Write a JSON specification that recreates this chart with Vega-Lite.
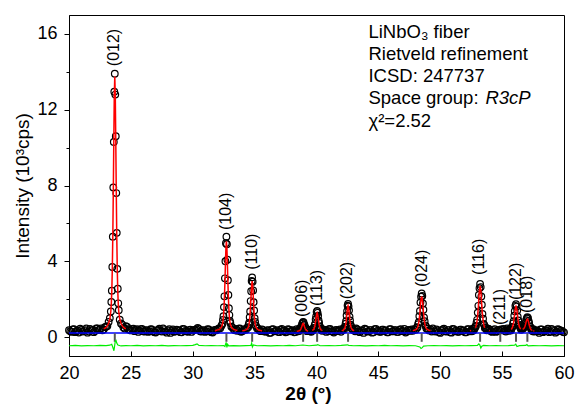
{
  "$schema": "https://vega.github.io/schema/vega-lite/v6.json",
  "width": 495,
  "height": 341,
  "autosize": {"type": "none"},
  "padding": {"left": 69, "top": 15, "right": 12, "bottom": 56},
  "background": "white",
  "config": {
    "view": {"stroke": "black", "strokeWidth": 1},
    "font": "Liberation Sans",
    "axis": {
      "grid": false,
      "domainColor": "black",
      "tickColor": "black",
      "labelColor": "black",
      "titleColor": "black",
      "labelFont": "Liberation Sans",
      "titleFont": "Liberation Sans",
      "labelFontSize": 18,
      "titleFontSize": 19,
      "titleFontWeight": "normal",
      "domainWidth": 1,
      "tickWidth": 1
    }
  },
  "datasets": {
    "obs": [
      {"x":20.0,"y":0.36,"c":0.30},{"x":20.2,"y":0.27,"c":0.30},{"x":20.4,"y":0.42,"c":0.30},{"x":20.6,"y":0.31,"c":0.30},{"x":20.8,"y":0.24,"c":0.30},
      {"x":21.0,"y":0.38,"c":0.30},{"x":21.2,"y":0.33,"c":0.30},{"x":21.4,"y":0.45,"c":0.31},{"x":21.6,"y":0.29,"c":0.32},{"x":21.8,"y":0.36,"c":0.33},
      {"x":22.0,"y":0.26,"c":0.34},{"x":22.2,"y":0.45,"c":0.35},{"x":22.4,"y":0.37,"c":0.37},{"x":22.6,"y":0.46,"c":0.39},{"x":22.8,"y":0.40,"c":0.44},
      {"x":20.1,"y":0.31},{"x":20.3,"y":0.40},{"x":20.5,"y":0.26},{"x":20.7,"y":0.35},{"x":20.9,"y":0.44},{"x":21.1,"y":0.29},{"x":21.3,"y":0.37},
      {"x":21.5,"y":0.23},{"x":21.7,"y":0.43},{"x":21.9,"y":0.36},{"x":22.1,"y":0.32},{"x":22.3,"y":0.45},{"x":22.5,"y":0.42},{"x":22.7,"y":0.36},
      {"x":22.90,"y":0.52,"c":0.46},{"x":23.00,"y":0.55,"c":0.52},{"x":23.10,"y":0.58,"c":0.60},{"x":23.20,"y":0.80,"c":0.73},{"x":23.30,"y":1.00,"c":0.95},{"x":23.38,"y":1.35,"c":1.35},
      {"x":23.42,"y":1.85,"c":1.77},{"x":23.46,"y":2.45,"c":2.45},{"x":23.50,"y":3.70,"c":3.60},{"x":23.54,"y":5.30,"c":5.33},{"x":23.58,"y":7.90,"c":7.66},
      {"x":23.62,"y":10.30,"c":10.35},{"x":23.66,"y":12.95,"c":12.74},{"x":23.70,"y":13.90,"c":13.75},{"x":23.74,"y":12.80,"c":12.74},{"x":23.78,"y":10.60,"c":10.35},
      {"x":23.82,"y":7.60,"c":7.66},{"x":23.86,"y":5.50,"c":5.33},{"x":23.90,"y":3.60,"c":3.60},{"x":23.94,"y":2.55,"c":2.45},{"x":23.98,"y":1.78,"c":1.77},
      {"x":24.02,"y":1.42,"c":1.35},{"x":24.10,"y":0.92,"c":0.95},{"x":24.20,"y":0.72,"c":0.73},{"x":24.30,"y":0.66,"c":0.60},{"x":24.40,"y":0.50,"c":0.52},{"x":24.50,"y":0.45,"c":0.46},
      {"x":24.6,"y":0.57,"c":0.44},{"x":24.8,"y":0.41,"c":0.39},{"x":25.0,"y":0.35,"c":0.37},{"x":25.2,"y":0.44,"c":0.35},{"x":25.4,"y":0.38,"c":0.34},
      {"x":25.6,"y":0.27,"c":0.33},{"x":25.8,"y":0.42,"c":0.32},{"x":26.0,"y":0.30,"c":0.31},{"x":26.2,"y":0.36,"c":0.30},{"x":26.4,"y":0.27,"c":0.30},
      {"x":26.6,"y":0.42,"c":0.30},{"x":26.8,"y":0.31,"c":0.30},{"x":27.0,"y":0.24,"c":0.30},{"x":27.2,"y":0.38,"c":0.30},{"x":27.4,"y":0.33,"c":0.30},
      {"x":27.6,"y":0.45,"c":0.30},{"x":27.8,"y":0.29,"c":0.30},{"x":28.0,"y":0.35,"c":0.30},{"x":28.2,"y":0.22,"c":0.30},{"x":28.4,"y":0.40,"c":0.30},
      {"x":28.6,"y":0.30,"c":0.30},{"x":28.8,"y":0.37,"c":0.30},{"x":29.0,"y":0.26,"c":0.30},{"x":29.2,"y":0.43,"c":0.30},{"x":29.4,"y":0.32,"c":0.30},
      {"x":29.6,"y":0.28,"c":0.30},{"x":29.8,"y":0.39,"c":0.30},{"x":30.0,"y":0.34,"c":0.30},{"x":30.2,"y":0.38,"c":0.32},{"x":30.4,"y":0.48,"c":0.32},
      {"x":30.6,"y":0.30,"c":0.30},{"x":30.8,"y":0.36,"c":0.30},{"x":31.0,"y":0.27,"c":0.30},{"x":31.2,"y":0.42,"c":0.30},{"x":31.4,"y":0.31,"c":0.30},
      {"x":31.6,"y":0.24,"c":0.30},{"x":31.8,"y":0.38,"c":0.31},
      {"x":24.7,"y":0.53},{"x":24.9,"y":0.38},{"x":25.1,"y":0.42},{"x":25.3,"y":0.31},{"x":25.5,"y":0.41},{"x":25.7,"y":0.34},{"x":25.9,"y":0.43},
      {"x":26.1,"y":0.29},{"x":26.3,"y":0.35},{"x":26.5,"y":0.31},{"x":26.7,"y":0.40},{"x":26.9,"y":0.26},{"x":27.1,"y":0.35},{"x":27.3,"y":0.44},
      {"x":27.5,"y":0.29},{"x":27.7,"y":0.37},{"x":27.9,"y":0.23},{"x":28.1,"y":0.41},{"x":28.3,"y":0.33},{"x":28.5,"y":0.28},{"x":28.7,"y":0.39},
      {"x":28.9,"y":0.34},{"x":29.1,"y":0.25},{"x":29.3,"y":0.42},{"x":29.5,"y":0.30},{"x":29.7,"y":0.36},{"x":29.9,"y":0.27},{"x":30.1,"y":0.38},
      {"x":30.3,"y":0.42},{"x":30.5,"y":0.43},{"x":30.7,"y":0.29},{"x":30.9,"y":0.35},{"x":31.1,"y":0.31},{"x":31.3,"y":0.40},{"x":31.5,"y":0.26},{"x":31.7,"y":0.35},
      {"x":31.92,"y":0.36,"c":0.36},{"x":32.02,"y":0.42,"c":0.38},{"x":32.12,"y":0.45,"c":0.40},{"x":32.22,"y":0.47,"c":0.45},{"x":32.32,"y":0.60,"c":0.53},{"x":32.40,"y":0.70,"c":0.67},
      {"x":32.44,"y":0.90,"c":0.82},{"x":32.48,"y":1.10,"c":1.06},{"x":32.52,"y":1.58,"c":1.46},{"x":32.56,"y":2.15,"c":2.08},{"x":32.60,"y":3.10,"c":2.90},
      {"x":32.64,"y":4.00,"c":3.85},{"x":32.68,"y":4.95,"c":4.69},{"x":32.72,"y":5.30,"c":5.05},{"x":32.76,"y":4.90,"c":4.69},{"x":32.80,"y":4.08,"c":3.85},
      {"x":32.84,"y":3.00,"c":2.90},{"x":32.88,"y":2.22,"c":2.08},{"x":32.92,"y":1.52,"c":1.46},{"x":32.96,"y":1.16,"c":1.06},{"x":33.00,"y":0.85,"c":0.82},
      {"x":33.04,"y":0.74,"c":0.67},{"x":33.12,"y":0.55,"c":0.53},{"x":33.22,"y":0.50,"c":0.45},{"x":33.32,"y":0.40,"c":0.40},{"x":33.42,"y":0.36,"c":0.38},{"x":33.52,"y":0.41,"c":0.36},
      {"x":33.6,"y":0.33,"c":0.34},{"x":33.7,"y":0.44},{"x":33.8,"y":0.45,"c":0.33},{"x":33.9,"y":0.28},
      {"x":34.00,"y":0.30,"c":0.33},{"x":34.10,"y":0.37,"c":0.34},{"x":34.20,"y":0.42,"c":0.36},{"x":34.30,"y":0.38,"c":0.38},{"x":34.40,"y":0.50,"c":0.43},{"x":34.48,"y":0.52,"c":0.51},
      {"x":34.52,"y":0.66,"c":0.59},{"x":34.56,"y":0.76,"c":0.72},{"x":34.60,"y":1.05,"c":0.95},{"x":34.64,"y":1.35,"c":1.29},{"x":34.68,"y":1.90,"c":1.75},
      {"x":34.72,"y":2.42,"c":2.28},{"x":34.76,"y":2.96,"c":2.75},{"x":34.80,"y":3.15,"c":2.95},{"x":34.84,"y":2.92,"c":2.75},{"x":34.88,"y":2.46,"c":2.28},
      {"x":34.92,"y":1.84,"c":1.75},{"x":34.96,"y":1.40,"c":1.29},{"x":35.00,"y":1.00,"c":0.95},{"x":35.04,"y":0.80,"c":0.72},{"x":35.08,"y":0.62,"c":0.59},
      {"x":35.12,"y":0.57,"c":0.51},{"x":35.20,"y":0.45,"c":0.43},{"x":35.30,"y":0.44,"c":0.38},{"x":35.40,"y":0.34,"c":0.36},{"x":35.50,"y":0.31,"c":0.34},{"x":35.60,"y":0.40,"c":0.33},
      {"x":35.8,"y":0.29,"c":0.31},{"x":36.0,"y":0.35,"c":0.30},{"x":36.2,"y":0.22,"c":0.30},{"x":36.4,"y":0.40,"c":0.30},{"x":36.6,"y":0.30,"c":0.30},
      {"x":36.8,"y":0.37,"c":0.30},{"x":37.0,"y":0.26,"c":0.30},{"x":37.2,"y":0.43,"c":0.30},{"x":37.4,"y":0.32,"c":0.30},{"x":37.6,"y":0.28,"c":0.30},
      {"x":37.8,"y":0.39,"c":0.30},{"x":38.0,"y":0.34,"c":0.30},{"x":38.2,"y":0.25,"c":0.30},{"x":38.4,"y":0.41,"c":0.31},
      {"x":35.7,"y":0.36},{"x":35.9,"y":0.29},{"x":36.1,"y":0.37},{"x":36.3,"y":0.23},{"x":36.5,"y":0.41},{"x":36.7,"y":0.33},{"x":36.9,"y":0.28},
      {"x":37.1,"y":0.39},{"x":37.3,"y":0.34},{"x":37.5,"y":0.25},{"x":37.7,"y":0.42},{"x":37.9,"y":0.30},{"x":38.1,"y":0.36},{"x":38.3,"y":0.27},
      {"x":38.52,"y":0.30,"c":0.32},{"x":38.60,"y":0.42,"c":0.33},{"x":38.64,"y":0.33,"c":0.35},{"x":38.68,"y":0.45,"c":0.37},{"x":38.72,"y":0.40,"c":0.40},
      {"x":38.76,"y":0.55,"c":0.46},{"x":38.80,"y":0.56,"c":0.53},{"x":38.84,"y":0.70,"c":0.61},{"x":38.88,"y":0.74,"c":0.69},{"x":38.92,"y":0.80,"c":0.72},
      {"x":38.96,"y":0.77,"c":0.69},{"x":39.00,"y":0.66,"c":0.61},{"x":39.04,"y":0.62,"c":0.53},{"x":39.08,"y":0.48,"c":0.46},{"x":39.12,"y":0.49,"c":0.40},
      {"x":39.16,"y":0.36,"c":0.37},{"x":39.20,"y":0.42,"c":0.35},{"x":39.24,"y":0.31,"c":0.33},{"x":39.32,"y":0.39,"c":0.32},
      {"x":39.41,"y":0.36},{"x":39.5,"y":0.30,"c":0.32},{"x":39.58,"y":0.28},
      {"x":39.65,"y":0.42,"c":0.35},{"x":39.73,"y":0.36,"c":0.38},{"x":39.77,"y":0.48,"c":0.41},{"x":39.81,"y":0.46,"c":0.46},{"x":39.85,"y":0.62,"c":0.54},
      {"x":39.89,"y":0.70,"c":0.67},{"x":39.93,"y":0.93,"c":0.84},{"x":39.97,"y":1.09,"c":1.03},{"x":40.01,"y":1.32,"c":1.21},{"x":40.05,"y":1.38,"c":1.28},
      {"x":40.09,"y":1.28,"c":1.21},{"x":40.13,"y":1.13,"c":1.03},{"x":40.17,"y":0.88,"c":0.84},{"x":40.21,"y":0.74,"c":0.67},{"x":40.25,"y":0.56,"c":0.54},
      {"x":40.29,"y":0.53,"c":0.46},{"x":40.33,"y":0.41,"c":0.41},{"x":40.37,"y":0.45,"c":0.38},{"x":40.45,"y":0.33,"c":0.35},{"x":40.52,"y":0.40},
      {"x":40.6,"y":0.36,"c":0.32},{"x":40.8,"y":0.27,"c":0.31},{"x":41.0,"y":0.42,"c":0.30},{"x":41.2,"y":0.31,"c":0.30},{"x":41.4,"y":0.24,"c":0.30},
      {"x":41.6,"y":0.38,"c":0.31},{"x":41.8,"y":0.33,"c":0.32},
      {"x":40.7,"y":0.38},{"x":40.9,"y":0.32},{"x":41.1,"y":0.43},{"x":41.3,"y":0.29},{"x":41.5,"y":0.35},{"x":41.7,"y":0.31},{"x":41.9,"y":0.40},{"x":41.98,"y":0.28},
      {"x":42.05,"y":0.36,"c":0.34},{"x":42.15,"y":0.44,"c":0.36},{"x":42.23,"y":0.40,"c":0.41},{"x":42.27,"y":0.52,"c":0.45},{"x":42.31,"y":0.54,"c":0.52},
      {"x":42.35,"y":0.71,"c":0.63},{"x":42.39,"y":0.84,"c":0.80},{"x":42.43,"y":1.14,"c":1.04},{"x":42.47,"y":1.37,"c":1.31},{"x":42.51,"y":1.66,"c":1.55},
      {"x":42.55,"y":1.75,"c":1.65},{"x":42.59,"y":1.62,"c":1.55},{"x":42.63,"y":1.41,"c":1.31},{"x":42.67,"y":1.08,"c":1.04},{"x":42.71,"y":0.88,"c":0.80},
      {"x":42.75,"y":0.65,"c":0.63},{"x":42.79,"y":0.58,"c":0.52},{"x":42.83,"y":0.45,"c":0.45},{"x":42.87,"y":0.47,"c":0.41},{"x":42.95,"y":0.37,"c":0.36},
      {"x":43.05,"y":0.41,"c":0.34},{"x":43.12,"y":0.30},
      {"x":43.2,"y":0.45,"c":0.32},{"x":43.4,"y":0.29,"c":0.31},{"x":43.6,"y":0.35,"c":0.30},{"x":43.8,"y":0.22,"c":0.30},{"x":44.0,"y":0.40,"c":0.30},
      {"x":44.2,"y":0.30,"c":0.30},{"x":44.4,"y":0.37,"c":0.30},{"x":44.6,"y":0.26,"c":0.30},{"x":44.8,"y":0.43,"c":0.30},{"x":45.0,"y":0.32,"c":0.30},
      {"x":45.2,"y":0.28,"c":0.30},{"x":45.4,"y":0.39,"c":0.30},{"x":45.6,"y":0.34,"c":0.30},{"x":45.8,"y":0.25,"c":0.30},{"x":46.0,"y":0.41,"c":0.30},
      {"x":46.2,"y":0.30,"c":0.30},{"x":46.4,"y":0.36,"c":0.30},{"x":46.6,"y":0.27,"c":0.30},{"x":46.8,"y":0.42,"c":0.30},{"x":47.0,"y":0.31,"c":0.30},
      {"x":47.2,"y":0.24,"c":0.31},{"x":47.4,"y":0.38,"c":0.32},{"x":47.6,"y":0.33,"c":0.33},
      {"x":43.3,"y":0.40},{"x":43.5,"y":0.26},{"x":43.7,"y":0.35},{"x":43.9,"y":0.44},{"x":44.1,"y":0.29},{"x":44.3,"y":0.37},{"x":44.5,"y":0.23},
      {"x":44.7,"y":0.41},{"x":44.9,"y":0.33},{"x":45.1,"y":0.28},{"x":45.3,"y":0.39},{"x":45.5,"y":0.34},{"x":45.7,"y":0.25},{"x":45.9,"y":0.42},
      {"x":46.1,"y":0.30},{"x":46.3,"y":0.36},{"x":46.5,"y":0.27},{"x":46.7,"y":0.38},{"x":46.9,"y":0.32},{"x":47.1,"y":0.43},{"x":47.3,"y":0.29},{"x":47.5,"y":0.35},{"x":47.69,"y":0.40},
      {"x":47.78,"y":0.33,"c":0.34},{"x":47.90,"y":0.42,"c":0.36},{"x":48.02,"y":0.38,"c":0.39},{"x":48.12,"y":0.52,"c":0.44},{"x":48.16,"y":0.50,"c":0.50},
      {"x":48.21,"y":0.68,"c":0.60},{"x":48.26,"y":0.78,"c":0.75},{"x":48.31,"y":1.10,"c":0.99},{"x":48.36,"y":1.38,"c":1.31},{"x":48.40,"y":1.83,"c":1.68},
      {"x":48.45,"y":2.13,"c":2.01},{"x":48.50,"y":2.30,"c":2.15},{"x":48.55,"y":2.17,"c":2.01},{"x":48.60,"y":1.77,"c":1.68},{"x":48.64,"y":1.44,"c":1.31},
      {"x":48.69,"y":1.04,"c":0.99},{"x":48.74,"y":0.84,"c":0.75},{"x":48.79,"y":0.62,"c":0.60},{"x":48.84,"y":0.57,"c":0.50},{"x":48.88,"y":0.45,"c":0.44},
      {"x":48.98,"y":0.44,"c":0.39},{"x":49.10,"y":0.35,"c":0.36},{"x":49.22,"y":0.40,"c":0.34},{"x":49.31,"y":0.29},
      {"x":49.4,"y":0.45,"c":0.32},{"x":49.6,"y":0.29,"c":0.31},{"x":49.8,"y":0.35,"c":0.30},{"x":50.0,"y":0.22,"c":0.30},{"x":50.2,"y":0.40,"c":0.30},
      {"x":50.4,"y":0.30,"c":0.30},{"x":50.6,"y":0.37,"c":0.30},{"x":50.8,"y":0.26,"c":0.30},{"x":51.0,"y":0.43,"c":0.30},{"x":51.2,"y":0.32,"c":0.30},
      {"x":51.4,"y":0.28,"c":0.30},{"x":51.6,"y":0.39,"c":0.30},{"x":51.8,"y":0.34,"c":0.30},{"x":52.0,"y":0.25,"c":0.31},{"x":52.2,"y":0.41,"c":0.32},
      {"x":52.4,"y":0.30,"c":0.33},
      {"x":49.5,"y":0.31},{"x":49.7,"y":0.40},{"x":49.9,"y":0.26},{"x":50.1,"y":0.35},{"x":50.3,"y":0.44},{"x":50.5,"y":0.29},{"x":50.7,"y":0.37},
      {"x":50.9,"y":0.23},{"x":51.1,"y":0.41},{"x":51.3,"y":0.33},{"x":51.5,"y":0.28},{"x":51.7,"y":0.39},{"x":51.9,"y":0.34},{"x":52.1,"y":0.25},{"x":52.3,"y":0.42},
      {"x":52.50,"y":0.36,"c":0.35},{"x":52.56,"y":0.30},{"x":52.62,"y":0.44,"c":0.38},{"x":52.68,"y":0.35},{"x":52.74,"y":0.41,"c":0.42},{"x":52.79,"y":0.47},{"x":52.84,"y":0.56,"c":0.49},{"x":52.88,"y":0.57,"c":0.56},
      {"x":52.93,"y":0.76,"c":0.68},{"x":52.98,"y":0.91,"c":0.89},{"x":53.03,"y":1.29,"c":1.20},{"x":53.08,"y":1.65,"c":1.61},{"x":53.12,"y":2.22,"c":2.09},
      {"x":53.17,"y":2.58,"c":2.52},{"x":53.22,"y":2.80,"c":2.70},{"x":53.27,"y":2.64,"c":2.52},{"x":53.32,"y":2.14,"c":2.09},{"x":53.36,"y":1.71,"c":1.61},
      {"x":53.41,"y":1.22,"c":1.20},{"x":53.46,"y":0.97,"c":0.89},{"x":53.51,"y":0.70,"c":0.68},{"x":53.56,"y":0.63,"c":0.56},{"x":53.60,"y":0.48,"c":0.49},
      {"x":53.65,"y":0.52},{"x":53.70,"y":0.47,"c":0.42},{"x":53.76,"y":0.36},{"x":53.82,"y":0.37,"c":0.38},{"x":53.88,"y":0.44},{"x":53.94,"y":0.42,"c":0.35},
      {"x":54.0,"y":0.36,"c":0.34},{"x":54.2,"y":0.27,"c":0.32},{"x":54.4,"y":0.42,"c":0.31},{"x":54.6,"y":0.31,"c":0.30},{"x":54.8,"y":0.34,"c":0.30},
      {"x":55.0,"y":0.38,"c":0.31},{"x":55.2,"y":0.33,"c":0.31},{"x":55.4,"y":0.45,"c":0.32},
      {"x":54.1,"y":0.30},{"x":54.3,"y":0.36},{"x":54.5,"y":0.27},{"x":54.7,"y":0.38},{"x":54.9,"y":0.40},{"x":55.1,"y":0.43},{"x":55.3,"y":0.29},{"x":55.46,"y":0.37},
      {"x":55.52,"y":0.33,"c":0.34},{"x":55.58,"y":0.40},{"x":55.64,"y":0.43,"c":0.36},{"x":55.69,"y":0.34},{"x":55.74,"y":0.40,"c":0.40},{"x":55.78,"y":0.52,"c":0.44},{"x":55.83,"y":0.53,"c":0.51},
      {"x":55.88,"y":0.72,"c":0.62},{"x":55.93,"y":0.84,"c":0.79},{"x":55.98,"y":1.13,"c":1.02},{"x":56.02,"y":1.36,"c":1.29},{"x":56.07,"y":1.65,"c":1.52},
      {"x":56.12,"y":1.74,"c":1.62},{"x":56.17,"y":1.61,"c":1.52},{"x":56.22,"y":1.40,"c":1.29},{"x":56.26,"y":1.07,"c":1.02},{"x":56.31,"y":0.88,"c":0.79},
      {"x":56.36,"y":0.66,"c":0.62},{"x":56.41,"y":0.59,"c":0.51},{"x":56.46,"y":0.50,"c":0.46},{"x":56.50,"y":0.48,"c":0.43},{"x":56.54,"y":0.38},{"x":56.58,"y":0.44,"c":0.42},{"x":56.62,"y":0.50},
      {"x":56.66,"y":0.47,"c":0.42},{"x":56.70,"y":0.45,"c":0.42},{"x":56.75,"y":0.52,"c":0.45},{"x":56.80,"y":0.55,"c":0.50},{"x":56.85,"y":0.63,"c":0.57},
      {"x":56.90,"y":0.74,"c":0.68},{"x":56.94,"y":0.89,"c":0.80},{"x":56.99,"y":0.98,"c":0.91},{"x":57.04,"y":1.05,"c":0.95},{"x":57.09,"y":1.01,"c":0.90},
      {"x":57.14,"y":0.85,"c":0.79},{"x":57.18,"y":0.74,"c":0.66},{"x":57.23,"y":0.57,"c":0.54},{"x":57.28,"y":0.54,"c":0.46},{"x":57.33,"y":0.42,"c":0.40},
      {"x":57.38,"y":0.44,"c":0.37},{"x":57.42,"y":0.36,"c":0.35},{"x":57.47,"y":0.30},{"x":57.52,"y":0.41,"c":0.33},
      {"x":57.6,"y":0.29,"c":0.32},{"x":57.8,"y":0.35,"c":0.31},{"x":58.0,"y":0.22,"c":0.30},{"x":58.2,"y":0.40,"c":0.30},{"x":58.4,"y":0.30,"c":0.30},
      {"x":58.6,"y":0.37,"c":0.30},{"x":58.8,"y":0.26,"c":0.30},{"x":59.0,"y":0.43,"c":0.30},{"x":59.2,"y":0.32,"c":0.30},{"x":59.4,"y":0.28,"c":0.30},
      {"x":59.6,"y":0.39,"c":0.30},{"x":59.8,"y":0.34,"c":0.30},{"x":60.0,"y":0.25,"c":0.30},
      {"x":57.7,"y":0.35},{"x":57.9,"y":0.31},{"x":58.1,"y":0.40},{"x":58.3,"y":0.26},{"x":58.5,"y":0.35},{"x":58.7,"y":0.44},
      {"x":58.9,"y":0.29},{"x":59.1,"y":0.37},{"x":59.3,"y":0.23},{"x":59.5,"y":0.41},{"x":59.7,"y":0.33},{"x":59.9,"y":0.28}
    ],
    "bg": [{"x":20,"y":0.22},{"x":60,"y":0.22}],
    "diff": [
      {"x":20.0,"y":-0.46},{"x":20.5,"y":-0.44},{"x":21.0,"y":-0.47},{"x":21.5,"y":-0.45},{"x":22.0,"y":-0.46},{"x":22.5,"y":-0.44},
      {"x":23.0,"y":-0.45},{"x":23.3,"y":-0.43},{"x":23.45,"y":-0.38},{"x":23.52,"y":-0.5},{"x":23.58,"y":-0.62},{"x":23.63,"y":-0.72},
      {"x":23.68,"y":-0.5},{"x":23.74,"y":-0.22},{"x":23.8,"y":-0.18},{"x":23.86,"y":-0.32},{"x":23.95,"y":-0.42},{"x":24.2,"y":-0.47},
      {"x":24.6,"y":-0.45},{"x":25.0,"y":-0.46},{"x":25.5,"y":-0.44},{"x":26.0,"y":-0.47},{"x":26.5,"y":-0.45},{"x":27.0,"y":-0.46},
      {"x":27.5,"y":-0.44},{"x":28.0,"y":-0.47},{"x":28.5,"y":-0.45},{"x":29.0,"y":-0.46},{"x":29.5,"y":-0.45},{"x":30.0,"y":-0.44},
      {"x":30.2,"y":-0.40},{"x":30.35,"y":-0.36},{"x":30.5,"y":-0.44},{"x":31.0,"y":-0.46},{"x":31.5,"y":-0.45},{"x":32.0,"y":-0.46},
      {"x":32.5,"y":-0.45},{"x":32.6,"y":-0.5},{"x":32.66,"y":-0.36},{"x":32.7,"y":-0.28},{"x":32.76,"y":-0.55},{"x":32.82,"y":-0.38},
      {"x":32.9,"y":-0.46},{"x":33.3,"y":-0.45},{"x":33.8,"y":-0.47},{"x":34.3,"y":-0.45},{"x":34.7,"y":-0.44},{"x":34.76,"y":-0.32},
      {"x":34.82,"y":-0.52},{"x":34.9,"y":-0.42},{"x":35.2,"y":-0.46},{"x":35.8,"y":-0.45},{"x":36.3,"y":-0.47},{"x":36.8,"y":-0.45},
      {"x":37.3,"y":-0.46},{"x":37.8,"y":-0.44},{"x":38.3,"y":-0.46},{"x":38.9,"y":-0.42},{"x":39.4,"y":-0.46},{"x":40.0,"y":-0.43},
      {"x":40.1,"y":-0.40},{"x":40.3,"y":-0.46},{"x":41.0,"y":-0.45},{"x":41.5,"y":-0.46},{"x":42.0,"y":-0.44},{"x":42.5,"y":-0.41},
      {"x":42.6,"y":-0.44},{"x":43.0,"y":-0.46},{"x":43.5,"y":-0.45},{"x":44.0,"y":-0.47},{"x":44.5,"y":-0.45},{"x":45.0,"y":-0.46},
      {"x":45.5,"y":-0.44},{"x":46.0,"y":-0.46},{"x":46.5,"y":-0.45},{"x":47.0,"y":-0.47},{"x":47.5,"y":-0.45},{"x":48.0,"y":-0.46},
      {"x":48.35,"y":-0.52},{"x":48.45,"y":-0.6},{"x":48.55,"y":-0.56},{"x":48.65,"y":-0.48},{"x":49.0,"y":-0.46},{"x":49.5,"y":-0.45},
      {"x":50.0,"y":-0.46},{"x":50.5,"y":-0.45},{"x":51.0,"y":-0.47},{"x":51.5,"y":-0.45},{"x":52.0,"y":-0.46},{"x":52.5,"y":-0.45},
      {"x":53.0,"y":-0.44},{"x":53.12,"y":-0.36},{"x":53.2,"y":-0.42},{"x":53.28,"y":-0.58},{"x":53.36,"y":-0.48},{"x":53.5,"y":-0.44},
      {"x":54.0,"y":-0.46},{"x":54.5,"y":-0.45},{"x":55.0,"y":-0.46},{"x":55.5,"y":-0.45},{"x":56.0,"y":-0.43},{"x":56.1,"y":-0.38},
      {"x":56.2,"y":-0.5},{"x":56.4,"y":-0.45},{"x":56.9,"y":-0.44},{"x":57.0,"y":-0.40},{"x":57.1,"y":-0.47},{"x":57.5,"y":-0.45},
      {"x":58.0,"y":-0.46},{"x":58.5,"y":-0.45},{"x":59.0,"y":-0.47},{"x":59.5,"y":-0.45},{"x":60.0,"y":-0.46}
    ],
    "bragg": [
      {"x":23.70},{"x":32.72},{"x":34.80},{"x":38.92},{"x":40.05},{"x":42.55},{"x":48.50},{"x":53.22},{"x":54.85},{"x":56.12},{"x":57.04}
    ],
    "hkl": [
      {"x":23.65,"y":14.3,"t":"(012)"},
      {"x":32.72,"y":5.65,"t":"(104)"},
      {"x":34.8,"y":3.55,"t":"(110)"},
      {"x":38.85,"y":1.06,"t":"(006)"},
      {"x":40.02,"y":1.64,"t":"(113)"},
      {"x":42.5,"y":2.0,"t":"(202)"},
      {"x":48.55,"y":2.64,"t":"(024)"},
      {"x":53.17,"y":3.28,"t":"(116)"},
      {"x":54.8,"y":0.63,"t":"(211)"},
      {"x":56.15,"y":1.95,"t":"(122)"},
      {"x":57.05,"y":1.27,"t":"(018)"}
    ],
    "notes": [
      {"x":44.2,"y":16.1,"t":"LiNbO₃ fiber"},
      {"x":44.2,"y":14.95,"t":"Rietveld refinement"},
      {"x":44.2,"y":13.78,"t":"ICSD: 247737"},
      {"x":44.2,"y":12.6,"t":"Space group: "},
      {"x":44.2,"y":11.42,"t":"χ²=2.52"}
    ],
    "italic": [
      {"x":53.65,"y":12.6,"t":"R3cP"}
    ]
  },
  "layer": [
    {
      "data": {"name": "obs"},
      "mark": {"type": "point", "shape": "circle", "filled": false, "stroke": "black", "strokeWidth": 1.2, "size": 44, "opacity": 1},
      "encoding": {
        "x": {
          "field": "x", "type": "quantitative",
          "scale": {"domain": [20, 60], "nice": false, "zero": false},
          "axis": {
            "values": [20,22.5,25,27.5,30,32.5,35,37.5,40,42.5,45,47.5,50,52.5,55,57.5,60],
            "labelExpr": "datum.value % 5 === 0 ? datum.label : ''",
            "labelFlush": false,
            "labelOverlap": false,
            "tickSize": -5,
            "labelPadding": 13,
            "title": "2θ (°)",
            "titleFontWeight": "bold",
            "titleX": 239,
            "titlePadding": 2
          }
        },
        "y": {
          "field": "y", "type": "quantitative",
          "scale": {"domain": [-1, 17], "nice": false, "zero": false},
          "axis": {
            "values": [0,2,4,6,8,10,12,14,16],
            "labelExpr": "datum.value % 4 === 0 ? datum.label : ''",
            "labelOverlap": false,
            "tickSize": {"condition": {"test": "datum.value % 4 === 0", "value": 5}, "value": 3},
            "labelPadding": 7,
            "title": "Intensity (10³cps)",
            "titlePadding": 4
          }
        }
      }
    },
    {
      "data": {"name": "obs"},
      "mark": {"type": "line", "color": "#ff0000", "strokeWidth": 1.5},
      "encoding": {
        "x": {"field": "x", "type": "quantitative", "scale": {"domain": [20, 60], "nice": false, "zero": false}},
        "y": {"field": "c", "type": "quantitative", "scale": {"domain": [-1, 17], "nice": false, "zero": false}}
      }
    },
    {
      "data": {"name": "bg"},
      "mark": {"type": "line", "color": "#0000ff", "strokeWidth": 1.5},
      "encoding": {
        "x": {"field": "x", "type": "quantitative", "scale": {"domain": [20, 60], "nice": false, "zero": false}},
        "y": {"field": "y", "type": "quantitative", "scale": {"domain": [-1, 17], "nice": false, "zero": false}}
      }
    },
    {
      "data": {"name": "bragg"},
      "mark": {"type": "rule", "color": "#555555", "strokeWidth": 2},
      "encoding": {
        "x": {"field": "x", "type": "quantitative", "scale": {"domain": [20, 60], "nice": false, "zero": false}},
        "y": {"datum": -0.25},
        "y2": {"datum": 0.2}
      }
    },
    {
      "data": {"name": "diff"},
      "mark": {"type": "line", "color": "#00ee00", "strokeWidth": 1.2},
      "encoding": {
        "x": {"field": "x", "type": "quantitative", "scale": {"domain": [20, 60], "nice": false, "zero": false}},
        "y": {"field": "y", "type": "quantitative", "scale": {"domain": [-1, 17], "nice": false, "zero": false}}
      }
    },
    {
      "data": {"name": "hkl"},
      "mark": {"type": "text", "angle": 270, "align": "left", "baseline": "middle", "fontSize": 16, "font": "Liberation Sans", "color": "black"},
      "encoding": {
        "x": {"field": "x", "type": "quantitative", "scale": {"domain": [20, 60], "nice": false, "zero": false}},
        "y": {"field": "y", "type": "quantitative", "scale": {"domain": [-1, 17], "nice": false, "zero": false}},
        "text": {"field": "t"}
      }
    },
    {
      "data": {"name": "notes"},
      "mark": {"type": "text", "align": "left", "baseline": "middle", "fontSize": 18.5, "font": "Liberation Sans", "color": "black"},
      "encoding": {
        "x": {"field": "x", "type": "quantitative", "scale": {"domain": [20, 60], "nice": false, "zero": false}},
        "y": {"field": "y", "type": "quantitative", "scale": {"domain": [-1, 17], "nice": false, "zero": false}},
        "text": {"field": "t"}
      }
    },
    {
      "data": {"name": "italic"},
      "mark": {"type": "text", "align": "left", "baseline": "middle", "fontSize": 18.5, "font": "Liberation Sans", "fontStyle": "italic", "color": "black"},
      "encoding": {
        "x": {"field": "x", "type": "quantitative", "scale": {"domain": [20, 60], "nice": false, "zero": false}},
        "y": {"field": "y", "type": "quantitative", "scale": {"domain": [-1, 17], "nice": false, "zero": false}},
        "text": {"field": "t"}
      }
    }
  ]
}
